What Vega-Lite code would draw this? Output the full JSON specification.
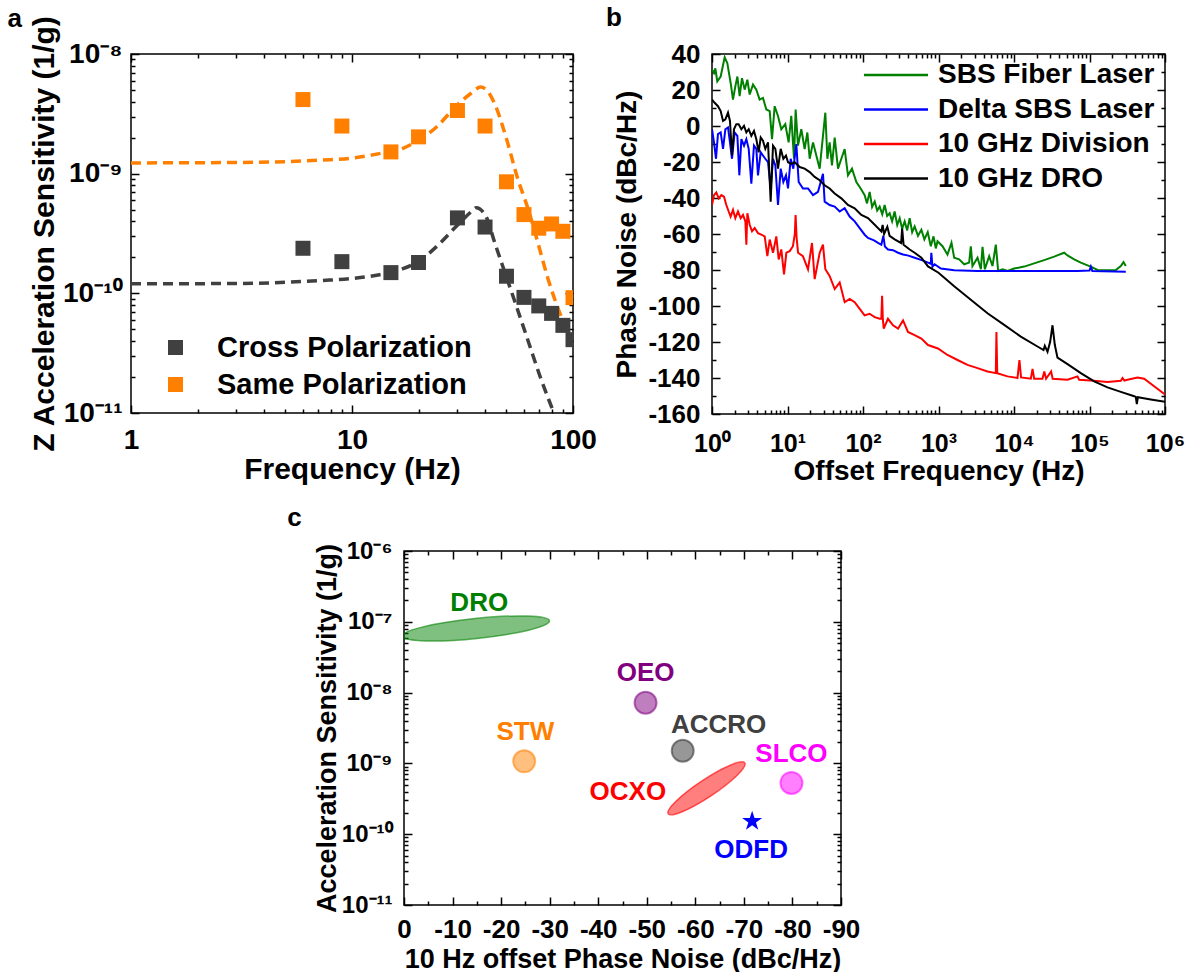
{
  "$schema": "https://vega.github.io/schema/vega-lite/v6.json",
  "background": "white",
  "padding": {"left": 6, "top": 4, "right": 5, "bottom": 5},
  "spacing": 18,
  "center": false,
  "resolve": {"scale": {"color": "independent", "fill": "independent", "stroke": "independent"}, "legend": {"color": "independent"}},
  "datasets": {
    "aFitCross": [
      {"f": 1, "v": 1.2e-10}, {"f": 3.15, "v": 1.21e-10}, {"f": 7.3, "v": 1.28e-10}, {"f": 10, "v": 1.33e-10},
      {"f": 13.3, "v": 1.43e-10}, {"f": 16.9, "v": 1.6e-10}, {"f": 19.8, "v": 1.83e-10}, {"f": 24.2, "v": 2.47e-10},
      {"f": 29.5, "v": 3.6e-10}, {"f": 34.6, "v": 4.8e-10}, {"f": 36.5, "v": 5.2e-10}, {"f": 40.7, "v": 4.27e-10},
      {"f": 44.1, "v": 2.7e-10}, {"f": 49.7, "v": 1.41e-10}, {"f": 56, "v": 7.4e-11}, {"f": 63.1, "v": 3.85e-11},
      {"f": 71.1, "v": 2.0e-11}, {"f": 81.9, "v": 1.0e-11}, {"f": 88, "v": 7e-12}
    ],
    "aFitSame": [
      {"f": 1, "v": 1.23e-9}, {"f": 3.15, "v": 1.24e-9}, {"f": 7.3, "v": 1.3e-9}, {"f": 10, "v": 1.35e-9},
      {"f": 13.3, "v": 1.47e-9}, {"f": 16.9, "v": 1.62e-9}, {"f": 19.8, "v": 1.88e-9}, {"f": 24.2, "v": 2.47e-9},
      {"f": 29.5, "v": 3.65e-9}, {"f": 34.6, "v": 4.7e-9}, {"f": 38.2, "v": 5.3e-9}, {"f": 41, "v": 4.9e-9},
      {"f": 44.1, "v": 3.89e-9}, {"f": 49.7, "v": 2.03e-9}, {"f": 56, "v": 9.3e-10}, {"f": 63.1, "v": 4.86e-10},
      {"f": 69.8, "v": 2.54e-10}, {"f": 77.1, "v": 1.32e-10}, {"f": 87, "v": 6.9e-11}, {"f": 98, "v": 4.1e-11},
      {"f": 100, "v": 3.8e-11}
    ],
    "aPtsCross": [
      {"f": 6, "v": 2.38e-10}, {"f": 9, "v": 1.84e-10}, {"f": 15, "v": 1.49e-10}, {"f": 20, "v": 1.81e-10},
      {"f": 30, "v": 4.27e-10}, {"f": 40, "v": 3.58e-10}, {"f": 50, "v": 1.39e-10}, {"f": 60, "v": 9.25e-11},
      {"f": 70, "v": 7.85e-11}, {"f": 80, "v": 6.8e-11}, {"f": 90, "v": 5.4e-11}, {"f": 100, "v": 4.1e-11}
    ],
    "aPtsSame": [
      {"f": 6, "v": 4.16e-9}, {"f": 9, "v": 2.5e-9}, {"f": 15, "v": 1.52e-9}, {"f": 20, "v": 2.03e-9},
      {"f": 30, "v": 3.37e-9}, {"f": 40, "v": 2.5e-9}, {"f": 50, "v": 8.55e-10}, {"f": 60, "v": 4.55e-10},
      {"f": 70, "v": 3.5e-10}, {"f": 80, "v": 3.8e-10}, {"f": 90, "v": 3.3e-10}, {"f": 100, "v": 9.2e-11}
    ],
    "bG": [
      {"f":1,"p":31.2},{"f":1.062,"p":29.4},{"f":1.107,"p":32},{"f":1.175,"p":24.8},{"f":1.303,"p":27.5},{"f":1.472,"p":38.2},{"f":1.596,"p":34.9},{"f":1.766,"p":23.9},{"f":1.897,"p":14.7},{"f":2.037,"p":22},{"f":2.168,"p":27.5},{"f":2.323,"p":16.6},{"f":2.495,"p":26.6},{"f":2.71,"p":20.2},{"f":2.938,"p":25.7},{"f":3.155,"p":17.5},{"f":3.491,"p":23},{"f":3.864,"p":20.2},{"f":4.276,"p":14.7},{"f":4.732,"p":15.6},{"f":5.248,"p":9.2},{"f":5.808,"p":8.3},{"f":6.237,"p":-7.3},{"f":6.761,"p":11},{"f":7.482,"p":5.6},{"f":8.279,"p":-1.8},{"f":9.354,"p":1},{"f":10.35,"p":-9.1},{"f":11.22,"p":5.6},{"f":12.19,"p":-18.2},{"f":12.82,"p":9.2},{"f":13.77,"p":-10.9},{"f":15.24,"p":-1.8},{"f":16.87,"p":-12.8},{"f":18.32,"p":-3.6},{"f":19.68,"p":-18.2},{"f":21.78,"p":-9.1},{"f":24.1,"p":-16.4},{"f":26.67,"p":-23.7},{"f":29.51,"p":-5.5},{"f":31.7,"p":7.4},{"f":33.73,"p":-18.2},{"f":36.14,"p":-9.1},{"f":38.82,"p":-21.9},{"f":42.17,"p":-6.4},{"f":46.67,"p":-23.7},{"f":51.64,"p":-18.2},{"f":57.15,"p":-12.8},{"f":63.24,"p":-27.4},{"f":71.45,"p":-23.7},{"f":81.66,"p":-31.1},{"f":93.11,"p":-34.7},{"f":105.2,"p":-38.4},{"f":113,"p":-43},{"f":122.5,"p":-36.6},{"f":132,"p":-45},{"f":142.9,"p":-42},{"f":154,"p":-47},{"f":166.3,"p":-44.8},{"f":180,"p":-49},{"f":193.6,"p":-43.9},{"f":209,"p":-50},{"f":225.4,"p":-48.5},{"f":243,"p":-53},{"f":262.4,"p":-47.5},{"f":284,"p":-55},{"f":306.2,"p":-51.2},{"f":330,"p":-57},{"f":356.5,"p":-53},{"f":385,"p":-58},{"f":415,"p":-51.2},{"f":448,"p":-59},{"f":483.1,"p":-55.8},{"f":535,"p":-61},{"f":592.9,"p":-57.6},{"f":650,"p":-63},{"f":720,"p":-59},{"f":790.7,"p":-66.8},{"f":859,"p":-61.3},{"f":920,"p":-68},{"f":970.5,"p":-64},{"f":1130,"p":-66.8},{"f":1315,"p":-71.4},{"f":1486,"p":-64.9},{"f":1614,"p":-73.2},{"f":1879,"p":-74.1},{"f":2188,"p":-76.8},{"f":2547,"p":-75.9},{"f":2679,"p":-66.8},{"f":2818,"p":-77.8},{"f":3289,"p":-73.2},{"f":3639,"p":-79.6},{"f":3828,"p":-67.1},{"f":4111,"p":-79.6},{"f":4688,"p":-72.3},{"f":5188,"p":-77.8},{"f":5741,"p":-65.9},{"f":6166,"p":-80.5},{"f":7047,"p":-79.6},{"f":8204,"p":-80.5},{"f":10050,"p":-79.2},{"f":13650,"p":-78.1},{"f":18490,"p":-76.3},{"f":25120,"p":-74.5},{"f":34040,"p":-72.6},{"f":46130,"p":-70.4},{"f":51170,"p":-71.9},{"f":62660,"p":-74.1},{"f":76740,"p":-75.9},{"f":94190,"p":-77.4},{"f":104200,"p":-78.1},{"f":127600,"p":-80},{"f":173000,"p":-80.1},{"f":223400,"p":-80},{"f":260000,"p":-77.8},{"f":281800,"p":-75.6},{"f":302700,"p":-77.8}
    ],
    "bB": [
      {"f":1,"p":-1.8},{"f":1.062,"p":-9.1},{"f":1.13,"p":-18.2},{"f":1.199,"p":-4.5},{"f":1.303,"p":-3.6},{"f":1.4,"p":-12.7},{"f":1.503,"p":-1.8},{"f":1.629,"p":-0.8},{"f":1.73,"p":-9.1},{"f":1.841,"p":-18.2},{"f":1.995,"p":-3.6},{"f":2.168,"p":-5.5},{"f":2.301,"p":-27.4},{"f":2.449,"p":-7.3},{"f":2.655,"p":-10.9},{"f":2.851,"p":-7.3},{"f":3.062,"p":-12.7},{"f":3.319,"p":-32},{"f":3.597,"p":-10.9},{"f":3.864,"p":-12.7},{"f":4.064,"p":-27.4},{"f":4.416,"p":-14.6},{"f":4.732,"p":-16.4},{"f":5.082,"p":-18.2},{"f":5.521,"p":-20.1},{"f":5.984,"p":-34.7},{"f":6.427,"p":-18.2},{"f":6.902,"p":-21.9},{"f":7.482,"p":-43.9},{"f":8.128,"p":-23.7},{"f":8.81,"p":-31.1},{"f":9.55,"p":-27.4},{"f":10.16,"p":-34.7},{"f":11.02,"p":-18.2},{"f":11.94,"p":-23.7},{"f":13.09,"p":-10},{"f":14.06,"p":-31.1},{"f":16.03,"p":-34.7},{"f":18.71,"p":-34.7},{"f":21.78,"p":-38.4},{"f":25.35,"p":-36.6},{"f":29.51,"p":-26.5},{"f":31.05,"p":-42},{"f":36.14,"p":-43.9},{"f":42.17,"p":-44.8},{"f":49.09,"p":-47.5},{"f":57.15,"p":-45.7},{"f":66.53,"p":-50.3},{"f":77.62,"p":-53},{"f":90.36,"p":-56.7},{"f":105.2,"p":-60.4},{"f":116.4,"p":-62.2},{"f":140,"p":-63.5},{"f":158.1,"p":-64.9},{"f":175,"p":-66},{"f":186,"p":-61},{"f":195,"p":-67},{"f":214.3,"p":-68.6},{"f":250,"p":-69},{"f":291.1,"p":-70.4},{"f":338.8,"p":-71.4},{"f":400,"p":-72},{"f":483.1,"p":-73.2},{"f":600,"p":-74.5},{"f":726.1,"p":-75.9},{"f":790,"p":-76.5},{"f":803.5,"p":-70.4},{"f":831.8,"p":-78.1},{"f":889.2,"p":-76.8},{"f":1074,"p":-79.2},{"f":1614,"p":-80.1},{"f":3289,"p":-80.5},{"f":9078,"p":-80.5},{"f":25120,"p":-80.5},{"f":69340,"p":-80.5},{"f":100000,"p":-80.3},{"f":104200,"p":-78.1},{"f":109000,"p":-80.5},{"f":302700,"p":-81}
    ],
    "bR": [
      {"f":1,"p":-43.9},{"f":1.062,"p":-38.4},{"f":1.14,"p":-36.9},{"f":1.225,"p":-40.2},{"f":1.33,"p":-38.4},{"f":1.442,"p":-39.3},{"f":1.549,"p":-43.9},{"f":1.663,"p":-47.5},{"f":1.766,"p":-50.3},{"f":1.897,"p":-46.6},{"f":2.037,"p":-51.2},{"f":2.208,"p":-47.5},{"f":2.399,"p":-51.2},{"f":2.576,"p":-49.4},{"f":2.767,"p":-53},{"f":2.85,"p":-66},{"f":2.938,"p":-48.5},{"f":3.155,"p":-54.9},{"f":3.388,"p":-58.5},{"f":3.673,"p":-56.7},{"f":4.064,"p":-59.5},{"f":4.498,"p":-60.4},{"f":4.989,"p":-61.3},{"f":5.41,"p":-72.3},{"f":5.81,"p":-63.1},{"f":6.43,"p":-70.4},{"f":7.11,"p":-61.3},{"f":7.64,"p":-74.1},{"f":8.28,"p":-68.6},{"f":8.99,"p":-82.4},{"f":9.66,"p":-70.4},{"f":10.7,"p":-69.5},{"f":11.8,"p":-66.8},{"f":12.5,"p":-60},{"f":12.8,"p":-49.4},{"f":13.2,"p":-62},{"f":13.8,"p":-70.4},{"f":16,"p":-72.3},{"f":18.7,"p":-79.6},{"f":21.1,"p":-65},{"f":22.9,"p":-85.1},{"f":26.7,"p":-70.4},{"f":29.5,"p":-65.9},{"f":31.7,"p":-79.6},{"f":36.1,"p":-83.3},{"f":42.2,"p":-90.6},{"f":49.1,"p":-86.9},{"f":57.2,"p":-97.9},{"f":66.5,"p":-96.1},{"f":77.6,"p":-97.9},{"f":90.4,"p":-101.6},{"f":105,"p":-105.2},{"f":122,"p":-104.3},{"f":143,"p":-106.2},{"f":166,"p":-107.1},{"f":175,"p":-107},{"f":179,"p":-94.3},{"f":183,"p":-107},{"f":188,"p":-112.6},{"f":214,"p":-107.1},{"f":250,"p":-110.7},{"f":291,"p":-112.6},{"f":339,"p":-108},{"f":394,"p":-114.4},{"f":483,"p":-116.2},{"f":593,"p":-118.1},{"f":726,"p":-121.7},{"f":984,"p":-123.6},{"f":1315,"p":-127.2},{"f":1786,"p":-130},{"f":2421,"p":-132.7},{"f":3289,"p":-134.5},{"f":4457,"p":-136.4},{"f":5741,"p":-137.3},{"f":5850,"p":-114.4},{"f":6000,"p":-137.3},{"f":8204,"p":-139.1},{"f":11120,"p":-140},{"f":11800,"p":-130},{"f":12400,"p":-139.7},{"f":16710,"p":-140.4},{"f":17600,"p":-134.9},{"f":18500,"p":-140.4},{"f":23820,"p":-140.4},{"f":25200,"p":-136.4},{"f":26600,"p":-140.4},{"f":31000,"p":-136.4},{"f":32500,"p":-140.4},{"f":51170,"p":-141},{"f":69340,"p":-139.1},{"f":72950,"p":-141},{"f":115300,"p":-141.5},{"f":173000,"p":-142.2},{"f":260000,"p":-141.5},{"f":273500,"p":-140},{"f":290000,"p":-141.5},{"f":318400,"p":-141},{"f":432500,"p":-139.7},{"f":529700,"p":-140.4},{"f":717800,"p":-144.6},{"f":1000000,"p":-149.2}
    ],
    "bK": [
      {"f":1,"p":14.7},{"f":1.084,"p":12.9},{"f":1.199,"p":11},{"f":1.303,"p":8.3},{"f":1.4,"p":2.8},{"f":1.503,"p":3.7},{"f":1.629,"p":7.4},{"f":1.73,"p":2.8},{"f":1.841,"p":-16.4},{"f":1.954,"p":-1.8},{"f":2.099,"p":1},{"f":2.254,"p":1},{"f":2.449,"p":-1.8},{"f":2.655,"p":0.1},{"f":2.851,"p":-3.6},{"f":3.062,"p":-1.8},{"f":3.319,"p":-5.5},{"f":3.597,"p":-2.7},{"f":3.864,"p":-7.3},{"f":4.15,"p":-14.6},{"f":4.416,"p":-6.4},{"f":4.732,"p":-8.2},{"f":5.082,"p":-12.7},{"f":5.521,"p":-9.1},{"f":5.984,"p":-42},{"f":6.427,"p":-10.9},{"f":6.902,"p":-12.7},{"f":7.482,"p":-23.7},{"f":8.128,"p":-12.7},{"f":8.81,"p":-18.2},{"f":9.55,"p":-16.4},{"f":10.16,"p":-20.1},{"f":11.25,"p":-21},{"f":12.45,"p":-20.1},{"f":14.49,"p":-22.8},{"f":16.87,"p":-23.7},{"f":19.68,"p":-25.6},{"f":22.91,"p":-28.3},{"f":26.67,"p":-30.1},{"f":31.05,"p":-32.9},{"f":36.14,"p":-34.7},{"f":42.17,"p":-37.5},{"f":51.64,"p":-40.2},{"f":63.24,"p":-43.9},{"f":77.62,"p":-45.7},{"f":95.06,"p":-49.4},{"f":116.4,"p":-51.2},{"f":142.9,"p":-54.9},{"f":175,"p":-58.6},{"f":182,"p":-55},{"f":190,"p":-60},{"f":210,"p":-56},{"f":225,"p":-61},{"f":262.4,"p":-63},{"f":320,"p":-65},{"f":330,"p":-57},{"f":345,"p":-66},{"f":415,"p":-68.6},{"f":483.1,"p":-70.4},{"f":592.9,"p":-73.2},{"f":726.1,"p":-78},{"f":1000,"p":-81.5},{"f":1614,"p":-89},{"f":2679,"p":-96.5},{"f":4457,"p":-104},{"f":7413,"p":-110.5},{"f":12300,"p":-117},{"f":20460,"p":-122.5},{"f":24600,"p":-124.5},{"f":25590,"p":-122.1},{"f":27800,"p":-125.4},{"f":30130,"p":-119.9},{"f":32360,"p":-110.7},{"f":34750,"p":-121.7},{"f":37670,"p":-128.7},{"f":51170,"p":-132.3},{"f":76740,"p":-137.3},{"f":115300,"p":-141.9},{"f":173000,"p":-145.2},{"f":260000,"p":-147.7},{"f":390800,"p":-150.1},{"f":410000,"p":-150.5},{"f":423600,"p":-154.5},{"f":437000,"p":-150.7},{"f":648600,"p":-151.9},{"f":1000000,"p":-153.2}
    ],
    "cDRO": [{"x": -14.8, "y": 8.04e-8}],
    "cOCXO": [{"x": -62.3, "y": 4.44e-10}],
    "cCircles": [
      {"name": "OEO", "x": -49.75, "y": 7.2e-9},
      {"name": "STW", "x": -24.75, "y": 1.07e-9},
      {"name": "ACCRO", "x": -57.4, "y": 1.51e-9},
      {"name": "SLCO", "x": -79.8, "y": 5.3e-10}
    ],
    "cStar": [{"name": "ODFD", "x": -71.7, "y": 1.52e-10}],
    "cText": [
      {"label": "DRO", "x": -15.5, "y": 1.86e-7},
      {"label": "OEO", "x": -49.75, "y": 1.89e-8},
      {"label": "STW", "x": -25, "y": 2.78e-9},
      {"label": "ACCRO", "x": -64.8, "y": 3.52e-9},
      {"label": "SLCO", "x": -79.8, "y": 1.37e-9},
      {"label": "OCXO", "x": -46.1, "y": 3.94e-10},
      {"label": "ODFD", "x": -71.5, "y": 5.93e-11}
    ]
  },
  "vconcat": [
    {
      "spacing": 7,
      "resolve": {"scale": {"color": "independent"}, "legend": {"color": "independent"}},
      "hconcat": [
        {
          "width": 442,
          "height": 359,
          "title": {"text": "a", "dx": -22, "offset": -17},
          "layer": [
            {
              "data": {"name": "aFitCross"},
              "mark": {"type": "line", "color": "#404040", "strokeDash": [10, 6], "strokeWidth": 3.5, "clip": true, "interpolate": "monotone"},
              "encoding": {
                "x": {"field": "f", "type": "quantitative", "scale": {"type": "log", "domain": [1, 100], "nice": false},
                  "axis": {"orient": "bottom", "values": [1, 10, 100], "labelExpr": "'' + datum.value", "tickSize": -8, "labelPadding": 21, "labelFontSize": 28, "title": "Frequency (Hz)", "titleFontSize": 30, "titlePadding": 0}},
                "y": {"field": "v", "type": "quantitative", "scale": {"type": "log", "domain": [1e-11, 1e-8], "nice": false},
                  "axis": {"orient": "left", "values": [1e-11, 1e-10, 1e-9, 1e-8], "labelExpr": "datum.value < 3e-11 ? '10⁻¹¹' : datum.value < 3e-10 ? '10⁻¹⁰' : datum.value < 3e-9 ? '10⁻⁹' : '10⁻⁸'", "tickSize": -8, "labelPadding": 17, "labelFontSize": 28, "title": "Z Acceleration Sensitivity (1/g)", "titleFontSize": 30, "titlePadding": 3}}
              }
            },
            {
              "data": {"name": "aFitSame"},
              "mark": {"type": "line", "color": "#FF8000", "strokeDash": [10, 6], "strokeWidth": 3.5, "clip": true, "interpolate": "monotone"},
              "encoding": {
                "x": {"field": "f", "type": "quantitative", "axis": {"orient": "bottom", "values": [2, 3, 4, 5, 6, 7, 8, 9, 20, 30, 40, 50, 60, 70, 80, 90], "labels": false, "tickSize": -4, "title": null}},
                "y": {"field": "v", "type": "quantitative", "axis": {"orient": "left", "values": [2e-11, 3e-11, 4e-11, 5e-11, 6e-11, 7e-11, 8e-11, 9e-11, 2e-10, 3e-10, 4e-10, 5e-10, 6e-10, 7e-10, 8e-10, 9e-10, 2e-9, 3e-9, 4e-9, 5e-9, 6e-9, 7e-9, 8e-9, 9e-9], "labels": false, "tickSize": -4, "title": null}}
              }
            },
            {
              "data": {"name": "aPtsCross"},
              "mark": {"type": "point", "shape": "square", "filled": true, "size": 225, "opacity": 1, "clip": true},
              "encoding": {
                "x": {"field": "f", "type": "quantitative", "axis": {"orient": "top", "values": [1, 10, 100], "labels": false, "tickSize": -8, "title": null}},
                "y": {"field": "v", "type": "quantitative", "axis": {"orient": "right", "values": [1e-11, 1e-10, 1e-9, 1e-8], "labels": false, "tickSize": -8, "title": null}},
                "color": {"datum": "Cross Polarization", "type": "nominal",
                  "scale": {"domain": ["Cross Polarization", "Same Polarization"], "range": ["#404040", "#FF8000"]},
                  "legend": {"title": null, "orient": "none", "legendX": 30, "legendY": 279, "symbolType": "square", "symbolSize": 225, "symbolStrokeWidth": 0, "labelFontSize": 29, "labelOffset": 27, "rowPadding": 7, "padding": 0}}
              }
            },
            {
              "data": {"name": "aPtsSame"},
              "mark": {"type": "point", "shape": "square", "filled": true, "size": 225, "opacity": 1, "clip": true},
              "encoding": {
                "x": {"field": "f", "type": "quantitative", "axis": {"orient": "top", "values": [2, 3, 4, 5, 6, 7, 8, 9, 20, 30, 40, 50, 60, 70, 80, 90], "labels": false, "tickSize": -4, "title": null}},
                "y": {"field": "v", "type": "quantitative", "axis": {"orient": "right", "values": [2e-11, 3e-11, 4e-11, 5e-11, 6e-11, 7e-11, 8e-11, 9e-11, 2e-10, 3e-10, 4e-10, 5e-10, 6e-10, 7e-10, 8e-10, 9e-10, 2e-9, 3e-9, 4e-9, 5e-9, 6e-9, 7e-9, 8e-9, 9e-9], "labels": false, "tickSize": -4, "title": null}},
                "color": {"datum": "Same Polarization", "type": "nominal"}
              }
            }
          ],
          "resolve": {"axis": {"x": "independent", "y": "independent"}}
        },
        {
          "width": 453,
          "height": 360,
          "title": {"text": "b", "dx": -8, "offset": 10},
          "layer": [
            {
              "data": {"name": "bG"},
              "mark": {"type": "line", "strokeWidth": 2, "clip": true},
              "encoding": {
                "x": {"field": "f", "type": "quantitative", "scale": {"type": "log", "domain": [1, 1000000], "nice": false},
                  "axis": {"orient": "bottom", "values": [1, 10, 100, 1000, 10000, 100000, 1000000], "labelExpr": "['10⁰','10¹','10²','10³','10⁴','10⁵','10⁶'][round(log(datum.value)/LN10)]", "tickSize": -8, "labelPadding": 25, "labelFontSize": 25, "title": "Offset Frequency (Hz)", "titleFontSize": 28, "titlePadding": 1}},
                "y": {"field": "p", "type": "quantitative", "scale": {"domain": [-160, 40], "nice": false, "zero": false},
                  "axis": {"orient": "left", "values": [-160, -140, -120, -100, -80, -60, -40, -20, 0, 20, 40], "labelExpr": "'' + datum.value", "tickSize": -8, "labelPadding": 20, "labelFontSize": 26, "title": "Phase Noise (dBc/Hz)", "titleFontSize": 28, "titlePadding": 6}},
                "color": {"datum": "SBS Fiber Laser", "type": "nominal",
                  "scale": {"domain": ["SBS Fiber Laser", "Delta SBS Laser", "10 GHz Division", "10 GHz DRO"], "range": ["#008000", "#0000FF", "#FF0000", "#000000"]},
                  "legend": {"title": null, "orient": "none", "legendX": 165, "legendY": 2, "symbolType": "M-1.83,0H1.83", "symbolSize": 1225, "symbolStrokeWidth": 2.5, "labelFontSize": 28, "labelOffset": 23, "rowPadding": 1.5, "padding": 0}}
              }
            },
            {
              "data": {"name": "bB"},
              "mark": {"type": "line", "strokeWidth": 2, "clip": true},
              "encoding": {
                "x": {"field": "f", "type": "quantitative", "axis": {"orient": "bottom", "values": [2,3,4,5,6,7,8,9,20,30,40,50,60,70,80,90,200,300,400,500,600,700,800,900,2000,3000,4000,5000,6000,7000,8000,9000,20000,30000,40000,50000,60000,70000,80000,90000,200000,300000,400000,500000,600000,700000,800000,900000], "labels": false, "tickSize": -4, "title": null}},
                "y": {"field": "p", "type": "quantitative", "axis": {"orient": "left", "values": [-150, -130, -110, -90, -70, -50, -30, -10, 10, 30], "labels": false, "tickSize": -4, "title": null}},
                "color": {"datum": "Delta SBS Laser", "type": "nominal"}
              }
            },
            {
              "data": {"name": "bR"},
              "mark": {"type": "line", "strokeWidth": 2, "clip": true},
              "encoding": {
                "x": {"field": "f", "type": "quantitative", "axis": {"orient": "top", "values": [1, 10, 100, 1000, 10000, 100000, 1000000], "labels": false, "tickSize": -8, "title": null}},
                "y": {"field": "p", "type": "quantitative", "axis": {"orient": "right", "values": [-160, -140, -120, -100, -80, -60, -40, -20, 0, 20, 40], "labels": false, "tickSize": -8, "title": null}},
                "color": {"datum": "10 GHz Division", "type": "nominal"}
              }
            },
            {
              "data": {"name": "bK"},
              "mark": {"type": "line", "strokeWidth": 2, "clip": true},
              "encoding": {
                "x": {"field": "f", "type": "quantitative", "axis": {"orient": "top", "values": [2,3,4,5,6,7,8,9,20,30,40,50,60,70,80,90,200,300,400,500,600,700,800,900,2000,3000,4000,5000,6000,7000,8000,9000,20000,30000,40000,50000,60000,70000,80000,90000,200000,300000,400000,500000,600000,700000,800000,900000], "labels": false, "tickSize": -4, "title": null}},
                "y": {"field": "p", "type": "quantitative", "axis": {"orient": "right", "values": [-150, -130, -110, -90, -70, -50, -30, -10, 10, 30], "labels": false, "tickSize": -4, "title": null}},
                "color": {"datum": "10 GHz DRO", "type": "nominal"}
              }
            }
          ],
          "resolve": {"axis": {"x": "independent", "y": "independent"}}
        }
      ]
    },
    {
      "spacing": 0,
      "resolve": {"scale": {"color": "independent", "fill": "independent", "stroke": "independent"}},
      "hconcat": [
        {
          "width": 155,
          "height": 10,
          "data": {"values": [{"k": 0}]},
          "mark": {"type": "point", "opacity": 0},
          "encoding": {},
          "view": {"stroke": null}
        },
        {
          "width": 437,
          "height": 354,
          "title": {"text": "c", "dx": -26, "offset": 8},
          "layer": [
            {
              "data": {"name": "cDRO"},
              "mark": {"type": "point", "shape": "M-1,0A1,0.135,0,1,1,1,0A1,0.135,0,1,1,-1,0Z", "size": 21900, "angle": -5.9, "filled": true, "fill": "#008000", "fillOpacity": 0.5, "stroke": "#008000", "strokeOpacity": 0.6, "strokeWidth": 1.5, "opacity": 1, "clip": true},
              "encoding": {
                "x": {"field": "x", "type": "quantitative", "scale": {"domain": [0, -90], "nice": false, "zero": false},
                  "axis": {"orient": "bottom", "values": [0, -10, -20, -30, -40, -50, -60, -70, -80, -90], "labelExpr": "'' + datum.value", "tickSize": -8, "labelPadding": 19, "labelFontSize": 26, "title": "10 Hz offset Phase Noise (dBc/Hz)", "titleFontSize": 27, "titlePadding": 4}},
                "y": {"field": "y", "type": "quantitative", "scale": {"type": "log", "domain": [1e-11, 1e-6], "nice": false},
                  "axis": {"orient": "left", "values": [1e-11, 1e-10, 1e-9, 1e-8, 1e-7, 1e-6], "labelExpr": "['10⁻¹¹','10⁻¹⁰','10⁻⁹','10⁻⁸','10⁻⁷','10⁻⁶'][round(log(datum.value)/LN10) + 11]", "tickSize": -8, "labelPadding": 20, "labelFontSize": 24, "title": "Acceleration Sensitivity (1/g)", "titleFontSize": 27, "titlePadding": 0}}
              }
            },
            {
              "data": {"name": "cOCXO"},
              "mark": {"type": "point", "shape": "M-1,0A1,0.19,0,1,1,1,0A1,0.19,0,1,1,-1,0Z", "size": 8464, "angle": -33.6, "filled": true, "fill": "#FF0000", "fillOpacity": 0.5, "stroke": "#FF0000", "strokeOpacity": 0.6, "strokeWidth": 1.5, "opacity": 1, "clip": true},
              "encoding": {
                "x": {"field": "x", "type": "quantitative", "axis": {"orient": "bottom", "values": [-5, -15, -25, -35, -45, -55, -65, -75, -85], "labels": false, "tickSize": -4, "title": null}},
                "y": {"field": "y", "type": "quantitative", "axis": {"orient": "left", "values": [2e-11,3e-11,4e-11,5e-11,6e-11,7e-11,8e-11,9e-11,2e-10,3e-10,4e-10,5e-10,6e-10,7e-10,8e-10,9e-10,2e-9,3e-9,4e-9,5e-9,6e-9,7e-9,8e-9,9e-9,2e-8,3e-8,4e-8,5e-8,6e-8,7e-8,8e-8,9e-8,2e-7,3e-7,4e-7,5e-7,6e-7,7e-7,8e-7,9e-7], "labels": false, "tickSize": -4, "title": null}}
              }
            },
            {
              "data": {"name": "cCircles"},
              "mark": {"type": "point", "shape": "circle", "size": 484, "filled": true, "fillOpacity": 0.5, "strokeOpacity": 0.55, "strokeWidth": 2, "opacity": 1},
              "encoding": {
                "x": {"field": "x", "type": "quantitative", "axis": {"orient": "top", "values": [0, -10, -20, -30, -40, -50, -60, -70, -80, -90], "labels": false, "tickSize": -8, "title": null}},
                "y": {"field": "y", "type": "quantitative", "axis": {"orient": "right", "values": [1e-11, 1e-10, 1e-9, 1e-8, 1e-7, 1e-6], "labels": false, "tickSize": -8, "title": null}},
                "fill": {"field": "name", "type": "nominal", "scale": {"domain": ["OEO", "STW", "ACCRO", "SLCO"], "range": ["#800080", "#FF8000", "#303030", "#FF00FF"]}, "legend": null},
                "stroke": {"field": "name", "type": "nominal", "scale": {"domain": ["OEO", "STW", "ACCRO", "SLCO"], "range": ["#800080", "#FF8000", "#303030", "#FF00FF"]}, "legend": null}
              }
            },
            {
              "data": {"name": "cStar"},
              "mark": {"type": "point", "shape": "M0,-1L0.225,-0.309L0.951,-0.309L0.363,0.118L0.588,0.809L0,0.382L-0.588,0.809L-0.363,0.118L-0.951,-0.309L-0.225,-0.309Z", "size": 441, "filled": true, "fill": "#0000FF", "opacity": 1},
              "encoding": {
                "x": {"field": "x", "type": "quantitative", "axis": {"orient": "top", "values": [-5, -15, -25, -35, -45, -55, -65, -75, -85], "labels": false, "tickSize": -4, "title": null}},
                "y": {"field": "y", "type": "quantitative", "axis": {"orient": "right", "values": [2e-11,3e-11,4e-11,5e-11,6e-11,7e-11,8e-11,9e-11,2e-10,3e-10,4e-10,5e-10,6e-10,7e-10,8e-10,9e-10,2e-9,3e-9,4e-9,5e-9,6e-9,7e-9,8e-9,9e-9,2e-8,3e-8,4e-8,5e-8,6e-8,7e-8,8e-8,9e-8,2e-7,3e-7,4e-7,5e-7,6e-7,7e-7,8e-7,9e-7], "labels": false, "tickSize": -4, "title": null}}
              }
            },
            {
              "data": {"name": "cText"},
              "mark": {"type": "text", "font": "Liberation Sans", "fontWeight": "bold", "fontSize": 26, "align": "center", "baseline": "middle"},
              "encoding": {
                "x": {"field": "x", "type": "quantitative", "axis": null},
                "y": {"field": "y", "type": "quantitative", "axis": null},
                "text": {"field": "label"},
                "color": {"field": "label", "type": "nominal", "scale": {"domain": ["DRO", "OEO", "STW", "ACCRO", "SLCO", "OCXO", "ODFD"], "range": ["#008000", "#800080", "#FF8000", "#404040", "#FF00FF", "#FF0000", "#0000FF"]}, "legend": null}
              }
            }
          ],
          "resolve": {"axis": {"x": "independent", "y": "independent"}}
        }
      ]
    }
  ],
  "config": {
    "font": "Liberation Sans",
    "view": {"stroke": "#000000", "strokeWidth": 1.5},
    "axis": {"grid": false, "domain": false, "labelFont": "Liberation Sans", "titleFont": "Liberation Sans", "labelFontWeight": "bold", "titleFontWeight": "bold", "labelColor": "#000000", "titleColor": "#000000", "tickColor": "#000000", "tickWidth": 1.5, "labelFlush": false, "labelOverlap": false, "labelBound": false},
    "legend": {"labelFont": "Liberation Sans", "labelFontWeight": "bold", "labelColor": "#000000", "labelLimit": 600},
    "title": {"font": "Liberation Sans", "fontWeight": "bold", "fontSize": 26, "color": "#000000", "anchor": "start"}
  }
}
